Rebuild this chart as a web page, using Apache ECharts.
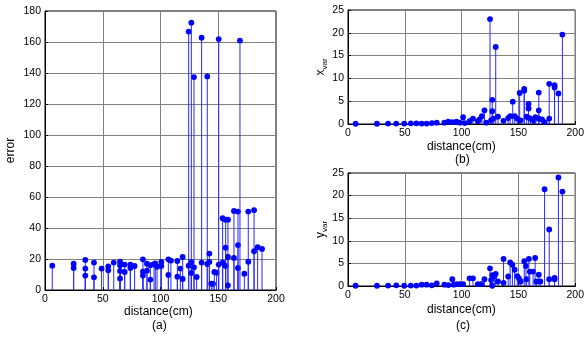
<!DOCTYPE html>
<html>
<head>
<meta charset="utf-8">
<script src="https://cdn.jsdelivr.net/npm/echarts@6/dist/echarts.min.js"></script>
<style>
html,body{margin:0;padding:0;background:#fff;}
#main{width:587px;height:338px;}
</style>
</head>
<body>
<div id="main"></div>
<script>
// (a) error vs distance
var distA = [6.3, 24.8, 24.8, 34.9, 34.9, 34.9, 42.4, 42.4, 49, 54.8, 54.8, 59.5, 65, 65, 65, 65,
  69, 69, 73.9, 73.9, 77.6, 84.8, 84.8, 84.8, 88.3, 88.3, 91.2, 91.2, 94.4, 95.5, 97, 100.7, 100.7,
  106.8, 106.8, 109, 114.6, 114.6, 117.2, 119.2, 119.2, 124.4, 124.4, 126.7, 126.7, 126.7, 129, 129,
  131.3, 135.6, 135.6, 140.5, 140.5, 142.3, 142.3, 144, 145.5, 146.6, 148.6, 150.4, 150.4, 153.8, 153.8,
  156.4, 156.4, 156.4, 158.4, 158.4, 158.4, 163.6, 163.6, 167.1, 167.1, 167.1, 168.8, 172.6, 176, 176,
  181, 181, 184.1, 187.9];
var errA = [15.7, 17, 14.2, 19.4, 13.8, 9.3, 17.7, 8.2, 13.8, 15.3, 12.7, 17.7, 18.3, 16, 12.3, 7.5,
  16.4, 11.6, 16.4, 14.2, 15.5, 19.8, 11.8, 9.3, 17, 12.5, 16, 6.7, 16.6, 17.2, 15, 18.1, 15.5,
  19.8, 9.7, 19, 18.7, 8.6, 13.8, 21.3, 7.1, 166.7, 15.7, 172.5, 17.9, 11, 137.4, 14.6,
  8.4, 162.8, 17.7, 137.8, 16.8, 23.5, 18.1, 4.1, 4, 11.6, 11.2, 161.9, 16.4, 46.3, 17.7,
  45.4, 27.3, 15.5, 45.4, 21.3, 3, 51, 20.7, 50.6, 29, 14.2, 160.9, 10.5, 50.6, 18.3,
  51.5, 25, 27.6, 26.5];

// (b) x variance vs distance
var distB = [6.7, 25.5, 35.3, 42.5, 49.5, 55.3, 60.2, 64.8, 69.2, 73.8, 78.1, 84.8, 88.3, 91.8, 95.5,
  98.4, 101.3, 102.7, 107, 110, 114.3, 115.8, 117.8, 120.1, 121.6, 125, 125.9, 127, 127, 128.2, 130,
  132, 136.9, 141, 142.7, 145, 146.7, 149, 151.1, 152, 155.1, 155.1, 157.2, 158.9, 158.9, 158.9,
  160.6, 163.5, 165, 167.9, 167.9, 167.9, 170.8, 173, 177.1, 177.1, 181.8, 181.8, 185.2, 188.7];
var xVar = [0.05, 0.05, 0.1, 0.1, 0.1, 0.15, 0.15, 0.1, 0.1, 0.2, 0.3, 0.3, 0.5, 0.4, 0.5,
  0.3, 1.5, 0.2, 0.6, 1.2, 0.6, 1.0, 1.7, 3.0, 0.3, 23.0, 0.8, 5.3, 2.8, 1.2, 16.9,
  1.6, 0.7, 1.3, 1.7, 4.9, 1.7, 1.2, 6.8, 0.8, 7.7, 7.3, 1.6, 4.4, 3.4, 1.4,
  1.2, 0.7, 1.5, 6.9, 3.0, 1.2, 1.0, 0.4, 8.8, 1.2, 8.5, 8.0, 6.7, 19.6];

// (c) y variance vs distance
var distC = [6.7, 25.5, 35.3, 42.5, 49.5, 55.3, 60.2, 64.8, 69.2, 73.8, 78.1, 84.8, 88.3, 91.8, 93.2,
  95.5, 98.4, 101.3, 107, 110, 114.3, 117.2, 120.1, 125, 126, 127, 127, 128.8, 130, 132, 136.9, 136.9,
  141, 142.7, 144.7, 146.7, 149, 150.5, 152, 155.1, 156.6, 157.2, 159.2, 160, 162.9, 164.7, 165.8,
  167.9, 169.3, 173, 177.1, 177.1, 181.8, 181.8, 185.2, 188.7];
var yVar = [0.05, 0.05, 0.1, 0.15, 0.05, 0.1, 0.1, 0.3, 0.3, 0.15, 0.6, 0.3, 0.2, 1.5, 0.3,
  0.4, 0.4, 0.4, 1.7, 1.7, 0.4, 0.4, 1.5, 3.9, 1.3, 2.4, 0.05, 2.1, 2.7, 1.0, 6.0, 0.7,
  2.1, 5.2, 4.7, 3.6, 2.2, 1.7, 1.0, 5.5, 4.4, 1.5, 6.0, 3.2, 3.2, 6.2, 1.0,
  2.5, 1.0, 21.4, 12.5, 1.5, 1.8, 1.5, 24.0, 20.9];

var xTicks = [0, 50, 100, 150, 200];

function pairs(xs, ys) {
    var out = [];
    for (var i = 0; i < xs.length; i++) {
        out.push([xs[i], ys[i]]);
    }
    return out;
}

// stem: line from 0 up to the value, dot on top
function stem(params, api) {
    var base = api.coord([api.value(0), 0]);
    var top = api.coord([api.value(0), api.value(1)]);
    return {
        type: 'group',
        children: [
            {type: 'line', shape: {x1: base[0], y1: base[1], x2: top[0], y2: top[1]},
             style: {stroke: '#2a2aff', lineWidth: 1}},
            {type: 'circle', shape: {cx: top[0], cy: top[1], r: 2.9},
             style: {fill: '#0000ff'}}
        ]
    };
}

var font = 'Liberation Sans, Arial, sans-serif';

function xAx(idx) {
    return {
        type: 'value', gridIndex: idx, min: 0, max: 200, interval: 50,
        axisLine: {lineStyle: {color: '#000', width: 1}},
        axisTick: {inside: true, length: 3, lineStyle: {color: '#000'}},
        axisLabel: {color: '#000', fontSize: 10.5, fontFamily: font, margin: 4,
            formatter: function (v) { return xTicks.indexOf(v) >= 0 ? String(v) : ''; }},
        splitLine: {show: true, lineStyle: {color: '#808080', width: 1}}
    };
}

function yAx(idx, max, step, name) {
    return {
        type: 'value', gridIndex: idx, min: 0, max: max, interval: step,
        name: name, nameLocation: 'middle', nameRotate: 90, nameGap: idx === 0 ? 28 : 20,
        nameTextStyle: {color: '#000', fontSize: 12, fontFamily: font,
            rich: {sub: {fontSize: 8, color: '#000', fontFamily: font, padding: [0, 0, -8, 0]}}},
        axisLine: {show: true, lineStyle: {color: '#000', width: 1}},
        axisTick: {show: true, inside: true, length: 3, lineStyle: {color: '#000'}},
        axisLabel: {color: '#000', fontSize: 10.5, fontFamily: font, margin: 4},
        splitLine: {show: true, lineStyle: {color: '#808080', width: 1}}
    };
}

var chart = echarts.init(document.getElementById('main'));
chart.setOption({
    backgroundColor: '#fff',
    animation: false,
    grid: [
        {left: 45, top: 11, width: 231, height: 279, show: true, borderColor: '#000', borderWidth: 1},
        {left: 348, top: 10, width: 231, height: 114, show: true, borderColor: '#000', borderWidth: 1},
        {left: 348, top: 173, width: 231, height: 113, show: true, borderColor: '#000', borderWidth: 1}
    ],
    xAxis: [xAx(0), xAx(1), xAx(2)],
    yAxis: [
        yAx(0, 180, 20, 'error'),
        yAx(1, 25, 5, 'x{sub|var}'),
        yAx(2, 25, 5, 'y{sub|var}')
    ],
    graphic: [
        {type: 'text', left: 124, top: 306, style: {text: 'distance(cm)', font: '12px ' + font, fill: '#000'}},
        {type: 'text', left: 152, top: 320, style: {text: '(a)', font: '12px ' + font, fill: '#000'}},
        {type: 'text', left: 427, top: 141, style: {text: 'distance(cm)', font: '12px ' + font, fill: '#000'}},
        {type: 'text', left: 455, top: 154, style: {text: '(b)', font: '12px ' + font, fill: '#000'}},
        {type: 'text', left: 427, top: 304, style: {text: 'distance(cm)', font: '12px ' + font, fill: '#000'}},
        {type: 'text', left: 456, top: 320, style: {text: '(c)', font: '12px ' + font, fill: '#000'}}
    ],
    series: [
        {type: 'custom', xAxisIndex: 0, yAxisIndex: 0, renderItem: stem,
         encode: {x: 0, y: 1}, data: pairs(distA, errA)},
        {type: 'custom', xAxisIndex: 1, yAxisIndex: 1, renderItem: stem,
         encode: {x: 0, y: 1}, data: pairs(distB, xVar)},
        {type: 'custom', xAxisIndex: 2, yAxisIndex: 2, renderItem: stem,
         encode: {x: 0, y: 1}, data: pairs(distC, yVar)}
    ]
});
</script>
</body>
</html>
